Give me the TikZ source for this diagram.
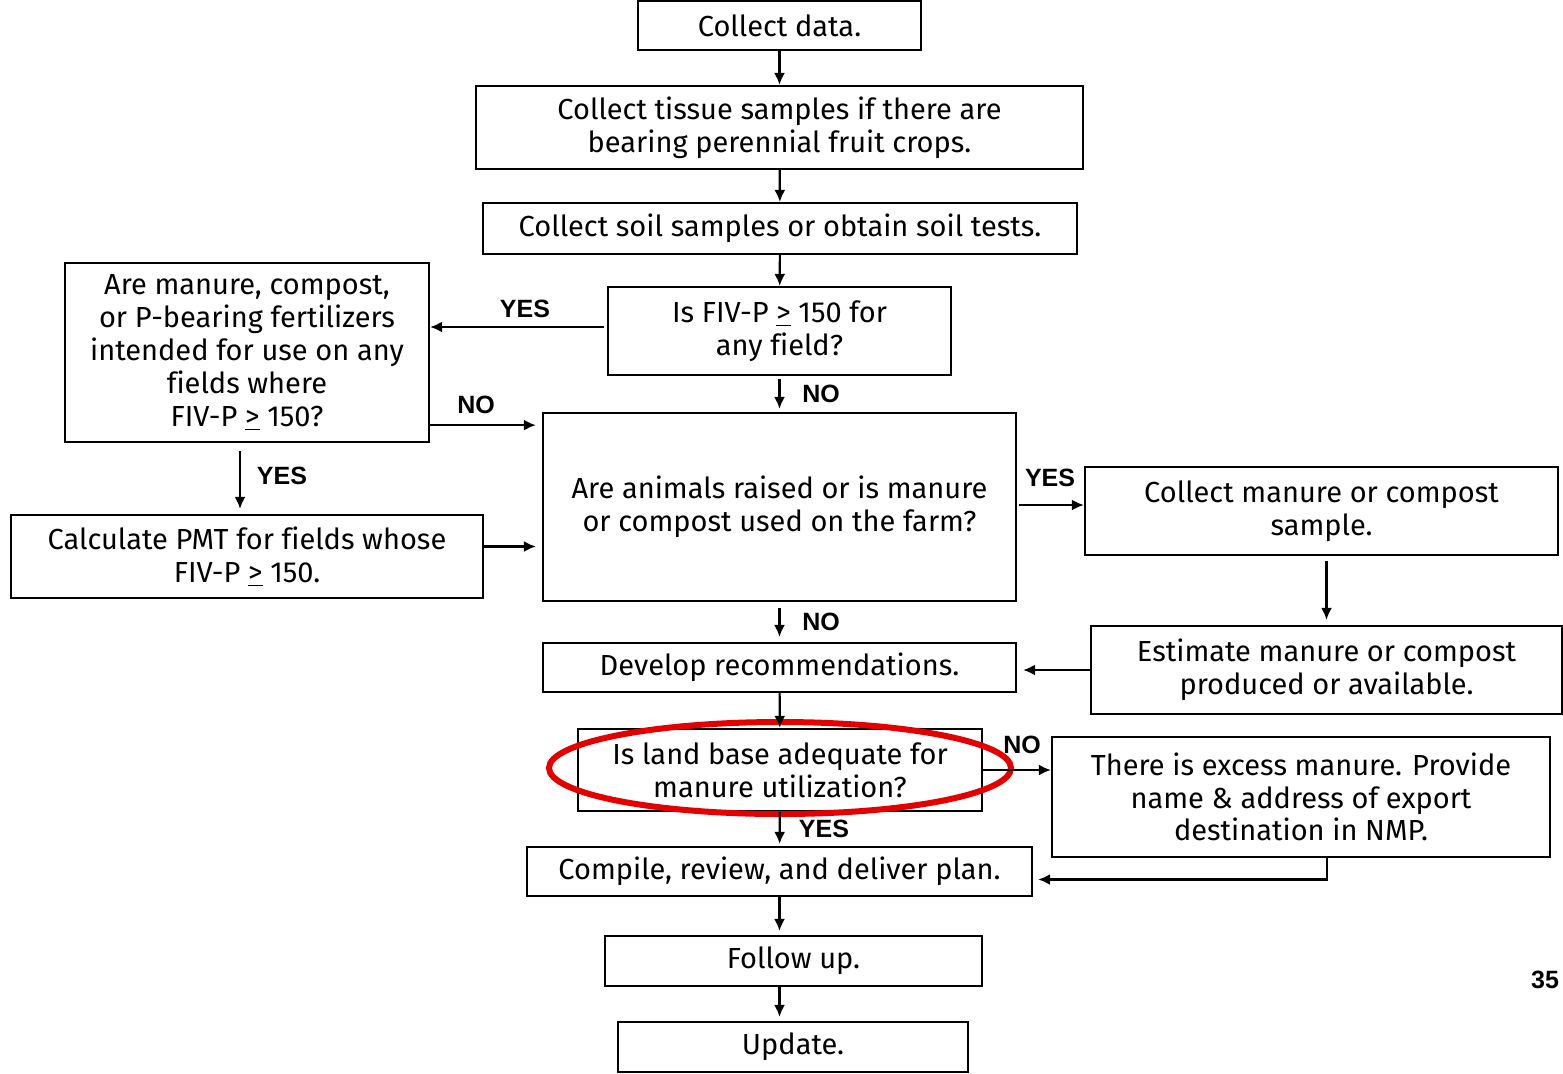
\documentclass[tikz,border=0pt]{standalone}
\usepackage{fontspec}
\setmainfont{Fira Sans}[Ligatures=NoCommon]
\newfontfamily\lblfont{Liberation Sans}
\usetikzlibrary{arrows.meta,calc,shapes.geometric}
\newcommand{\gte}{\underline{>}}
\begin{document}
\begin{tikzpicture}[x=0.5pt,y=-0.5pt,
  box/.style={draw,line width=1.1pt,inner sep=2pt,align=center,font=\fontsize{14.5}{16.4}\selectfont},
  arr/.style={-{Latex[length=6pt,width=5.5pt]},line width=1.1pt},
  lbl/.style={font=\lblfont\bfseries\fontsize{12.5}{14}\selectfont,inner sep=0pt}]
\useasboundingbox (0,0) rectangle (1563,1073);
% boxes
\node[box,minimum width=141.5pt,minimum height=24.5pt] (n1) at (779.5,25.5) {Collect data.};
\node[box,minimum width=303.5pt,minimum height=41.5pt] (n2) at (779.5,127.5) {Collect tissue samples if there are\\bearing perennial fruit crops.};
\node[box,minimum width=297pt,minimum height=25.5pt] (n3) at (780,228.5) {Collect soil samples or obtain soil tests.};
\node[box,minimum width=171.5pt,minimum height=44pt] (n4) at (779.5,331) {Is FIV-P \gte{} 150 for\\any field?};
\node[box,minimum width=182pt,minimum height=89.5pt] (n5) at (247,352.5) {Are manure, compost,\\or P-bearing fertilizers\\intended for use on any\\fields where\\FIV-P \gte{} 150?};
\node[box,minimum width=236pt,minimum height=41.5pt] (n6) at (247,556.5) {Calculate PMT for fields whose\\FIV-P \gte{} 150.};
\node[box,minimum width=236.5pt,minimum height=94pt] (n7) at (779.5,507) {Are animals raised or is manure\\or compost used on the farm?};
\node[box,minimum width=236.5pt,minimum height=44pt] (n8) at (1321.5,511) {Collect manure or compost\\sample.};
\node[box,minimum width=235.5pt,minimum height=44pt] (n9) at (1326.5,670) {Estimate manure or compost\\produced or available.};
\node[box,minimum width=236.5pt,minimum height=24.5pt] (n10) at (779.5,667.5) {Develop recommendations.};
\node[box,minimum width=202pt,minimum height=41pt] (n11) at (780,770) {Is land base adequate for\\manure utilization?};
\node[box,minimum width=249pt,minimum height=60pt] (n12) at (1301,797) {There is excess manure. Provide\\name \& address of export\\destination in NMP.};
\node[box,minimum width=252.5pt,minimum height=24.5pt] (n13) at (779.5,871.5) {Compile, review, and deliver plan.};
\node[box,minimum width=188.5pt,minimum height=25pt] (n14) at (793.5,961) {Follow up.};
\node[box,minimum width=175pt,minimum height=25pt] (n15) at (793,1047) {Update.};
% red ellipse
\node[draw=red!90!black,line width=3pt,ellipse,minimum width=231pt,minimum height=46pt,inner sep=0pt] (ell) at (780,768) {};
% connectors
\draw[arr] (n1) -- (n2);
\draw[arr] (n2) -- (n3);
\draw[arr] (n3) -- (n4);
\draw[arr,shorten <=1.5pt] ([yshift=2pt]n4.west) -- ([yshift=2pt]n4.west -| n5.east);
\draw[arr,shorten <=1.5pt,shorten >=1.5pt] (n4) -- (n7);
\draw[arr,shorten >=3pt] ([yshift=9pt]n5.south east) -- ([yshift=9pt]n5.south east -| n7.west);
\draw[arr,shorten <=4pt,shorten >=2.5pt] ([xshift=-3.5pt]n5.south) -- ([xshift=-3.5pt]n6.north);
\draw[arr,shorten >=3pt] ([yshift=5pt]n6.east) -- ([yshift=5pt]n6.east -| n7.west);
\draw[arr,shorten <=1pt] ([yshift=1pt]n7.east) -- ([yshift=1pt]n7.east -| n8.west);
\draw[arr,shorten <=2.5pt,shorten >=2.5pt] (n9.north |- n8.south) -- (n9.north);
\draw[arr,shorten >=3pt] (n9.west) -- (n9.west -| n10.east);
\draw[arr,shorten <=3pt,shorten >=2.5pt] (n7) -- (n10);
\draw[arr] (n10) -- (n11);
\draw[arr] (n11.east) -- (n11.east -| n12.west);
\draw[arr,shorten >=1pt] (n11) -- (n13);
\draw[arr] ([xshift=13pt]n12.south) |- ([xshift=2.5pt,yshift=-4pt]n13.east);
\draw[arr,shorten >=2pt] (n13) -- (n13 |- n14.north);
\draw[arr,shorten >=2pt] (n13 |- n14.south) -- (n13 |- n15.north);
% labels
\node[lbl] (l1) at (525,309) {YES};
\node[lbl] (l2) at (821,394) {NO};
\node[lbl] (l3) at (476,405) {NO};
\node[lbl] (l4) at (282,476) {YES};
\node[lbl] (l5) at (1050,478) {YES};
\node[lbl] (l6) at (821,622) {NO};
\node[lbl] (l7) at (1022,745) {NO};
\node[lbl] (l8) at (824,829) {YES};
\node[lbl] (pg) at (1545,980) {35};
\end{tikzpicture}
\end{document}
